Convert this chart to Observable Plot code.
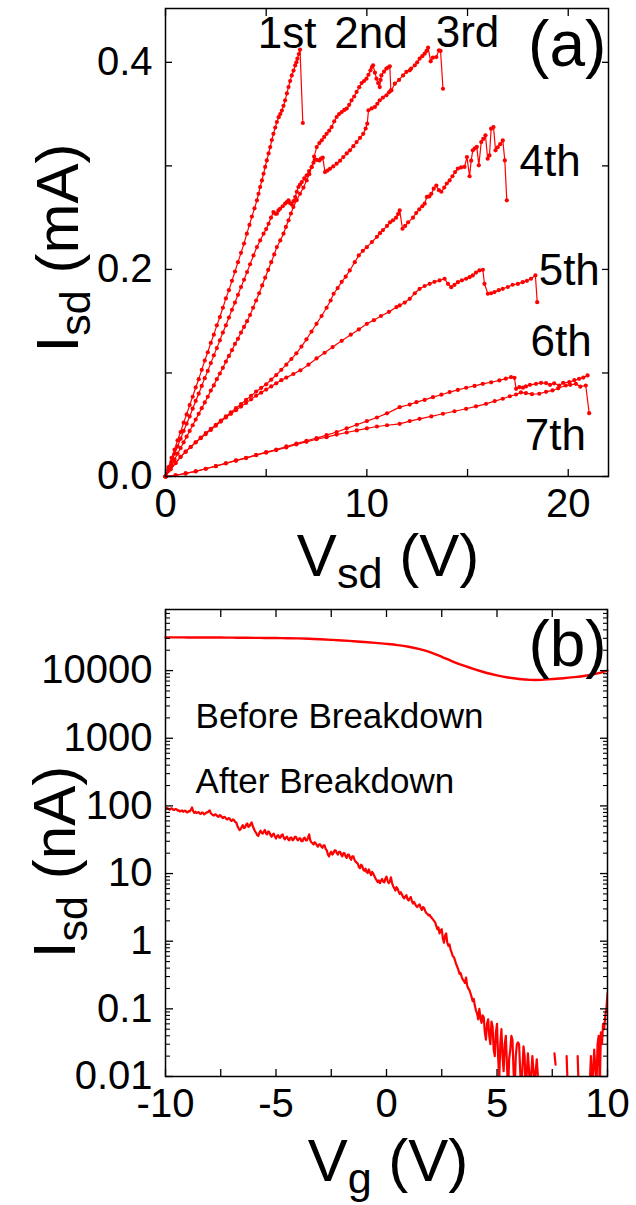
<!DOCTYPE html>
<html><head><meta charset="utf-8">
<script src="https://cdn.jsdelivr.net/npm/d3@7"></script>
<script src="https://cdn.jsdelivr.net/npm/@observablehq/plot@0.6"></script>
<style>
body{margin:0;background:#fff;}
#wrap{position:relative;width:636px;height:1205px;font-family:"Liberation Sans",Arial,sans-serif;color:#000;overflow:hidden;background:#fff}
#wrap svg{position:absolute;left:0}
.title{position:absolute;white-space:nowrap;font-size:60px;line-height:1}
.title sub{font-size:0.72em;vertical-align:-0.28em;line-height:0}
.xt{transform:translate(-50%,0)}
.yt{transform:translate(-50%,-50%) rotate(-90deg)}
</style></head><body><div id="wrap"></div>
<script>
// ---------- Panel (a) data: I_sd (mA) vs V_sd (V) ----------
const curveNames = ["1st","2nd","3rd","4th","5th","6th","7th"];
const curve1 = [[0,0],[0.15,0.009],[0.3,0.018],[0.45,0.026],[0.6,0.035],[0.75,0.043],[0.9,0.052],[1.05,0.060],[1.2,0.069],[1.35,0.077],[1.5,0.086],[1.65,0.094],[1.8,0.103],[1.95,0.112],[2.1,0.120],[2.25,0.129],[2.4,0.137],[2.55,0.146],[2.7,0.154],[2.85,0.163],[3.0,0.172],[3.15,0.180],[3.3,0.189],[3.45,0.198],[3.6,0.207],[3.75,0.216],[3.9,0.225],[4.04,0.2345],[4.17,0.243],[4.29,0.251],[4.42,0.259],[4.54,0.2667],[4.62,0.273],[4.70,0.2796],[4.79,0.286],[4.87,0.2924],[4.95,0.299],[5.03,0.3053],[5.12,0.312],[5.2,0.3182],[5.28,0.325],[5.36,0.331],[5.45,0.337],[5.53,0.3424],[5.62,0.347],[5.7,0.350],[5.78,0.3534],[5.86,0.358],[5.94,0.3633],[6.03,0.370],[6.11,0.3762],[6.19,0.382],[6.27,0.3874],[6.36,0.392],[6.44,0.397],[6.5,0.400],[6.55,0.4035],[6.62,0.408],[6.68,0.4122],[6.82,0.3414]];
const curve2 = [[0,0],[0.15,0.0055],[0.3,0.011],[0.45,0.0165],[0.6,0.022],[0.75,0.0275],[0.9,0.033],[1.05,0.0385],[1.2,0.044],[1.35,0.0495],[1.5,0.055],[1.65,0.0605],[1.8,0.066],[1.95,0.0715],[2.1,0.077],[2.25,0.083],[2.4,0.088],[2.55,0.094],[2.7,0.0995],[2.85,0.105],[3.0,0.111],[3.15,0.1165],[3.3,0.122],[3.45,0.128],[3.6,0.133],[3.75,0.139],[3.9,0.1445],[4.05,0.150],[4.2,0.156],[4.35,0.163],[4.5,0.170],[4.65,0.177],[4.8,0.1845],[4.95,0.192],[5.1,0.1995],[5.25,0.207],[5.4,0.2145],[5.53,0.2216],[5.7,0.228],[5.86,0.2345],[5.98,0.241],[6.11,0.2474],[6.23,0.254],[6.35,0.2603],[6.52,0.267],[6.68,0.2731],[6.85,0.279],[7.01,0.286],[7.14,0.292],[7.26,0.2989],[7.38,0.309],[7.51,0.3182],[7.64,0.322],[7.76,0.3247],[7.88,0.328],[8.0,0.331],[8.13,0.334],[8.25,0.3375],[8.38,0.343],[8.5,0.3472],[8.62,0.350],[8.75,0.352],[8.88,0.354],[9.0,0.3553],[9.12,0.359],[9.24,0.3633],[9.37,0.367],[9.49,0.3714],[9.62,0.376],[9.74,0.380],[9.86,0.382],[9.98,0.3842],[10.08,0.388],[10.18,0.3923],[10.25,0.3955],[10.31,0.3971],[10.4,0.390],[10.48,0.3842],[10.56,0.380],[10.64,0.3761],[10.68,0.383],[10.72,0.3874],[10.85,0.391],[10.97,0.394],[11.05,0.395],[11.14,0.3962],[11.19,0.373]];
const curve3 = [[0,0],[0.15,0.007],[0.3,0.0145],[0.45,0.022],[0.6,0.029],[0.75,0.0365],[0.9,0.044],[1.05,0.051],[1.2,0.058],[1.35,0.0655],[1.5,0.073],[1.65,0.080],[1.8,0.0875],[1.95,0.095],[2.1,0.102],[2.25,0.1095],[2.4,0.117],[2.55,0.124],[2.7,0.1315],[2.85,0.139],[3.0,0.146],[3.15,0.1535],[3.3,0.161],[3.45,0.168],[3.6,0.1755],[3.75,0.183],[3.9,0.190],[4.05,0.1975],[4.2,0.205],[4.37,0.2135],[4.54,0.2216],[4.7,0.228],[4.87,0.2345],[5.0,0.239],[5.12,0.2441],[5.24,0.250],[5.36,0.2554],[5.45,0.2538],[5.53,0.2538],[5.61,0.257],[5.69,0.2586],[5.82,0.261],[5.94,0.2635],[6.03,0.265],[6.11,0.2667],[6.19,0.264],[6.27,0.2628],[6.36,0.266],[6.44,0.2699],[6.52,0.275],[6.6,0.2796],[6.68,0.282],[6.77,0.2844],[6.89,0.288],[7.01,0.2908],[7.13,0.295],[7.26,0.2989],[7.35,0.303],[7.43,0.306],[7.53,0.3057],[7.64,0.3053],[7.72,0.307],[7.81,0.3079],[7.92,0.294],[8.04,0.2955],[8.17,0.2972],[8.33,0.2995],[8.5,0.3021],[8.67,0.305],[8.83,0.3085],[9.0,0.312],[9.16,0.315],[9.33,0.319],[9.49,0.323],[9.66,0.327],[9.82,0.331],[9.94,0.336],[10.02,0.3408],[10.08,0.3537],[10.24,0.3555],[10.4,0.3569],[10.52,0.360],[10.64,0.3633],[10.8,0.366],[10.97,0.3682],[11.1,0.371],[11.22,0.373],[11.39,0.3794],[11.6,0.383],[11.8,0.3874],[11.96,0.3907],[12.13,0.3923],[12.2,0.394],[12.38,0.3971],[12.5,0.400],[12.62,0.4035],[12.75,0.406],[12.87,0.4084],[12.96,0.411],[13.04,0.4142],[13.17,0.401],[13.28,0.4045],[13.45,0.4051],[13.58,0.4116],[13.66,0.411],[13.78,0.3745]];
const curve4 = [[0,0],[0.25,0.007],[0.5,0.013],[0.75,0.019],[1.0,0.024],[1.25,0.0285],[1.5,0.033],[1.75,0.0375],[2.0,0.042],[2.25,0.046],[2.5,0.050],[2.75,0.054],[3.0,0.058],[3.25,0.062],[3.5,0.066],[3.75,0.070],[4.0,0.074],[4.25,0.078],[4.5,0.082],[4.75,0.0855],[5.0,0.089],[5.25,0.0935],[5.5,0.098],[5.75,0.103],[6.0,0.108],[6.25,0.1135],[6.5,0.119],[6.75,0.1255],[7.0,0.1325],[7.25,0.140],[7.5,0.1475],[7.75,0.155],[8.0,0.163],[8.2,0.170],[8.35,0.1765],[8.55,0.182],[8.75,0.188],[8.95,0.193],[9.15,0.199],[9.4,0.207],[9.6,0.2135],[9.8,0.218],[10.0,0.2215],[10.25,0.2265],[10.5,0.2315],[10.65,0.235],[10.8,0.238],[11.0,0.242],[11.15,0.2455],[11.3,0.2475],[11.45,0.250],[11.55,0.2535],[11.63,0.257],[11.77,0.2393],[11.9,0.242],[12.05,0.2455],[12.29,0.250],[12.45,0.2545],[12.6,0.258],[12.75,0.261],[12.87,0.2635],[12.98,0.270],[13.1,0.2705],[13.2,0.273],[13.32,0.278],[13.45,0.281],[13.58,0.2765],[13.7,0.275],[13.84,0.279],[13.97,0.283],[14.11,0.286],[14.25,0.290],[14.38,0.294],[14.52,0.2974],[14.68,0.2985],[14.85,0.299],[14.97,0.3085],[15.1,0.290],[15.18,0.305],[15.26,0.315],[15.36,0.317],[15.46,0.3183],[15.56,0.3005],[15.68,0.323],[15.78,0.326],[15.89,0.3295],[16.0,0.3069],[16.09,0.3101],[16.17,0.3359],[16.29,0.3375],[16.39,0.315],[16.5,0.318],[16.62,0.321],[16.75,0.3246],[16.85,0.3053],[16.95,0.2667]];
const curve5 = [[0,0],[0.25,0.007],[0.5,0.013],[0.75,0.019],[1.0,0.024],[1.25,0.0285],[1.5,0.033],[1.75,0.037],[2.0,0.041],[2.25,0.045],[2.5,0.049],[2.75,0.053],[3.0,0.057],[3.25,0.0605],[3.5,0.064],[3.75,0.0675],[4.0,0.071],[4.25,0.0745],[4.5,0.078],[4.75,0.081],[5.0,0.084],[5.25,0.087],[5.5,0.090],[5.75,0.093],[6.0,0.0955],[6.35,0.099],[6.7,0.1025],[7.1,0.108],[7.5,0.114],[7.9,0.1195],[8.3,0.125],[8.75,0.131],[9.2,0.137],[9.6,0.142],[10.0,0.1475],[10.35,0.151],[10.7,0.155],[11.1,0.159],[11.47,0.1636],[11.63,0.1652],[11.88,0.168],[12.13,0.1716],[12.38,0.177],[12.62,0.1813],[12.87,0.184],[13.12,0.1861],[13.36,0.188],[13.61,0.1894],[13.86,0.191],[14.03,0.1861],[14.19,0.1829],[14.35,0.185],[14.52,0.1877],[14.72,0.1895],[14.93,0.191],[15.1,0.1925],[15.26,0.1942],[15.42,0.197],[15.59,0.199],[15.76,0.1997],[15.84,0.1861],[16.01,0.1765],[16.17,0.177],[16.34,0.1781],[16.55,0.180],[16.75,0.1813],[17.0,0.183],[17.24,0.1852],[17.5,0.186],[17.74,0.1877],[17.95,0.189],[18.15,0.191],[18.37,0.1942],[18.46,0.1684]];
const curve6 = [[0,0],[0.5,0.0012],[1.0,0.003],[1.5,0.005],[2.0,0.0075],[2.5,0.010],[3.0,0.0128],[3.5,0.0155],[4.0,0.018],[4.5,0.021],[5.0,0.0235],[5.5,0.026],[6.0,0.029],[6.5,0.0318],[7.0,0.0345],[7.5,0.037],[8.0,0.040],[8.5,0.043],[9.0,0.0465],[9.5,0.050],[10.0,0.0535],[10.5,0.057],[11.0,0.061],[11.63,0.067],[12.13,0.0695],[12.46,0.0718],[12.87,0.074],[13.28,0.0766],[13.7,0.079],[14.11,0.0815],[14.52,0.0836],[14.93,0.0857],[15.35,0.0875],[15.76,0.0895],[16.17,0.091],[16.58,0.0928],[16.9,0.0945],[17.16,0.096],[17.33,0.0953],[17.41,0.0847],[17.57,0.0863],[17.75,0.0858],[17.9,0.087],[18.1,0.0885],[18.4,0.0895],[18.65,0.0905],[18.9,0.0902],[19.1,0.0885],[19.3,0.090],[19.55,0.0879],[19.75,0.0905],[20.05,0.0911],[20.3,0.093],[20.54,0.0943],[20.75,0.0955],[20.96,0.0976]];
const curve7 = [[0,0],[0.5,0.0012],[1.0,0.003],[1.5,0.005],[2.0,0.0075],[2.5,0.010],[3.0,0.0127],[3.5,0.0153],[4.0,0.0178],[4.5,0.0205],[5.0,0.023],[5.5,0.0255],[6.0,0.028],[6.5,0.031],[7.0,0.0335],[7.5,0.036],[8.0,0.038],[8.5,0.0405],[9.0,0.0425],[9.5,0.0445],[10.0,0.0465],[10.5,0.0483],[11.0,0.0495],[11.63,0.0509],[12.13,0.0535],[12.62,0.0557],[13.2,0.058],[13.78,0.0606],[14.35,0.063],[14.93,0.0654],[15.42,0.0678],[15.92,0.0702],[16.35,0.0728],[16.75,0.0751],[17.1,0.0775],[17.41,0.0792],[17.65,0.0812],[17.9,0.0805],[18.2,0.0795],[18.56,0.0799],[18.9,0.0818],[19.22,0.0831],[19.5,0.0852],[19.88,0.0879],[20.1,0.0885],[20.38,0.0895],[20.6,0.0868],[20.87,0.0879],[21.04,0.0612]];
const curvesA = [curve1, curve2, curve3, curve4, curve5, curve6, curve7];

// panel (a) annotation anchors (data coordinates)
const labelsA = [
  {t:"1st", v:6.04, i:0.427}, {t:"2nd", v:10.2, i:0.427}, {t:"3rd", v:15.0, i:0.428},
  {t:"4th", v:19.1, i:0.3034}, {t:"5th", v:20.05, i:0.199}, {t:"6th", v:19.65, i:0.1304},
  {t:"7th", v:19.36, i:0.0396}
];
const panelA = [{t:"(a)", v:19.95, i:0.4164}];
const xTicksA = [0,5,10,15,20];
const xLabelsA = [0,10,20];
const yTicksA = [0,0.1,0.2,0.3,0.4];
const yLabelsA = [0,0.2,0.4];

// ---------- Panel (b) data: I_sd (nA) vs V_g (V) ----------
const vgBefore = [-10,-9.5,-9,-8.5,-8,-7.5,-7,-6.5,-6,-5.5,-5,-4.5,-4,-3.5,-3,-2.5,-2,-1.5,-1,-0.5,0,0.5,1,1.5,2,2.5,3,3.5,4,4.5,5,5.5,6,6.5,7,7.5,8,8.5,9,9.5,10];
const iBefore = [31000,31000,30900,30900,30800,30800,30700,30600,30500,30400,30300,30100,29900,29500,29000,28500,27900,27200,26500,25700,24800,23800,22500,20800,18600,16000,13600,11800,10400,9300,8500,7900,7500,7300,7300,7500,7700,8000,8400,9000,10000];
const after = [[-10,90],[-9.95,93],[-9.9,92],[-9.85,89],[-9.8,88],[-9.75,92],[-9.7,91],[-9.65,88],[-9.6,87],[-9.55,90],[-9.5,89],[-9.45,85],[-9.4,86],[-9.35,83],[-9.3,84],[-9.25,86],[-9.2,82],[-9.15,84],[-9.1,85],[-9.05,81],[-9.0,80],[-8.95,84],[-8.9,83],[-8.85,88],[-8.8,95],[-8.75,84],[-8.7,79],[-8.65,82],[-8.6,78],[-8.55,80],[-8.5,81],[-8.45,77],[-8.4,76],[-8.35,80],[-8.3,79],[-8.25,75],[-8.2,77],[-8.15,80],[-8.1,80],[-8.05,83],[-8.0,86],[-7.95,78],[-7.9,75],[-7.85,73],[-7.8,72],[-7.75,75],[-7.7,74],[-7.65,70],[-7.6,69],[-7.55,73],[-7.5,72],[-7.45,68],[-7.4,66],[-7.35,69],[-7.3,68],[-7.25,64],[-7.2,63],[-7.15,66],[-7.1,65],[-7.05,61],[-7.0,60],[-6.95,63],[-6.9,62],[-6.85,58],[-6.8,57],[-6.75,51],[-6.7,47],[-6.65,44],[-6.6,45],[-6.55,49],[-6.5,52],[-6.45,47],[-6.4,48],[-6.35,53],[-6.3,55],[-6.25,49],[-6.2,50],[-6.15,54],[-6.1,57],[-6.05,50],[-6.0,46],[-5.95,42],[-5.9,40],[-5.85,37],[-5.8,36],[-5.75,40],[-5.7,43],[-5.65,40],[-5.6,39],[-5.55,42],[-5.5,44],[-5.45,39],[-5.4,38],[-5.35,42],[-5.3,41],[-5.25,37],[-5.2,35],[-5.15,38],[-5.1,39],[-5.05,35],[-5.0,33],[-4.95,36],[-4.9,37],[-4.85,34],[-4.8,34],[-4.75,37],[-4.7,38],[-4.65,34],[-4.6,32],[-4.55,34],[-4.5,35],[-4.45,32],[-4.4,31],[-4.35,34],[-4.3,34],[-4.25,31],[-4.2,32],[-4.15,35],[-4.1,35],[-4.05,32],[-4.0,31],[-3.95,33],[-3.9,33],[-3.85,30],[-3.8,30],[-3.75,33],[-3.7,34],[-3.65,31],[-3.6,31],[-3.55,34],[-3.5,38],[-3.45,31],[-3.4,29],[-3.35,28],[-3.3,27],[-3.25,29],[-3.2,28],[-3.15,26],[-3.1,25],[-3.05,27],[-3.0,27],[-2.95,25],[-2.9,24],[-2.85,26],[-2.8,26],[-2.75,23],[-2.7,22],[-2.65,19],[-2.6,18],[-2.55,20],[-2.5,21],[-2.45,19],[-2.4,20],[-2.35,22],[-2.3,22],[-2.25,20],[-2.2,19],[-2.15,21],[-2.1,21],[-2.05,19],[-2.0,18],[-1.95,20],[-1.9,20],[-1.85,18],[-1.8,17],[-1.75,19],[-1.7,19],[-1.65,17],[-1.6,16],[-1.55,18],[-1.5,18],[-1.45,16],[-1.4,15],[-1.35,14.5],[-1.3,14],[-1.25,12.5],[-1.2,12],[-1.15,13.5],[-1.1,13],[-1.05,11.5],[-1.0,11],[-0.95,11.8],[-0.9,10.5],[-0.85,10.2],[-0.8,11.5],[-0.75,10.4],[-0.7,9.5],[-0.65,10.6],[-0.6,10],[-0.55,9.2],[-0.5,8.5],[-0.45,8.0],[-0.4,7.5],[-0.35,7.9],[-0.3,7.2],[-0.25,7.8],[-0.2,8.3],[-0.15,7.6],[-0.1,7.4],[-0.05,8.4],[0.0,9.0],[0.05,7.8],[0.1,7.2],[0.15,7.6],[0.2,8.8],[0.25,7.3],[0.3,6.5],[0.35,6.1],[0.4,5.6],[0.45,6.3],[0.5,6.0],[0.55,5.4],[0.6,5.0],[0.65,5.3],[0.7,4.9],[0.75,4.5],[0.8,4.3],[0.85,4.6],[0.9,4.8],[0.95,4.2],[1.0,4.0],[1.05,4.3],[1.1,4.5],[1.15,3.9],[1.2,3.6],[1.25,3.8],[1.3,3.5],[1.35,3.3],[1.4,3.2],[1.45,3.4],[1.5,3.5],[1.55,3.1],[1.6,2.9],[1.65,3.2],[1.7,3.1],[1.75,2.8],[1.8,2.6],[1.85,2.55],[1.9,2.4],[1.95,2.45],[2.0,2.3],[2.05,2.2],[2.1,2.1],[2.15,2.0],[2.2,1.9],[2.25,1.7],[2.3,1.5],[2.35,1.6],[2.4,1.3],[2.45,1.45],[2.5,1.5],[2.55,1.1],[2.6,0.95],[2.65,1.2],[2.7,1.3],[2.75,0.95],[2.8,0.85],[2.85,0.9],[2.9,0.75],[2.95,0.68],[3.0,0.6],[3.05,0.58],[3.1,0.52],[3.15,0.46],[3.2,0.42],[3.25,0.38],[3.3,0.33],[3.35,0.34],[3.4,0.30],[3.45,0.27],[3.5,0.26],[3.55,0.24],[3.6,0.29],[3.65,0.22],[3.7,0.20],[3.75,0.19],[3.8,0.17],[3.85,0.15],[3.9,0.13],[3.95,0.14],[4.0,0.11],[4.05,0.095],[4.1,0.085],[4.15,0.07],[4.2,0.10],[4.25,0.075],[4.3,0.062],[4.35,0.08],[4.4,0.075],[4.45,0.045],[4.5,0.035],[4.55,0.06],[4.6,0.07],[4.65,0.04],[4.7,0.03],[4.75,0.065],[4.8,0.055],[4.85,0.025],[4.9,0.02],[4.95,0.045],[5.0,0.06],[5.05,0.02],[5.1,0.009],[5.15,0.03],[5.2,0.05],[5.25,0.02],[5.3,0.012],[5.35,0.03],[5.4,0.04],[5.45,0.015],[5.5,0.006],[5.55,0.018],[5.6,0.025],[5.65,0.04],[5.7,0.035],[5.75,0.012],[5.8,0.006],[5.85,0.02],[5.9,0.03],[5.95,0.032],[6.0,0.03],[6.05,0.012],[6.1,0.006],[6.2,0.028],[6.25,0.02],[6.3,0.006],[6.4,0.022],[6.45,0.012],[6.5,0.006],[6.6,0.02],[6.65,0.012],[6.7,0.008],[6.8,0.018],[6.85,0.01],[6.9,0.007],[7.0,null],[7.3,null],[7.6,0.022],[7.65,0.015],[7.8,null],[8.0,null],[8.15,0.02],[8.2,0.007],[8.4,null],[8.6,null],[8.65,0.02],[8.7,0.006],[8.9,null],[9.1,null],[9.2,0.008],[9.25,0.02],[9.3,0.006],[9.4,0.025],[9.5,0.007],[9.55,0.03],[9.6,0.04],[9.65,0.006],[9.7,0.045],[9.75,0.03],[9.8,0.06],[9.85,0.05],[9.9,0.08],[9.95,0.1],[10.0,0.17]];
const textB = [
  {t:"Before Breakdown", vg:-8.64, i:2100},
  {t:"After Breakdown", vg:-8.64, i:228}
];
const panelB = [{t:"(b)", vg:8.19, i:23500}];
const xTicksB = [-10,-7.5,-5,-2.5,0,2.5,5,7.5,10];
const xLabelsB = [-10,-5,0,5,10];
const yLabelsB = [0.01,0.1,1,10,100,1000,10000];
const yMinorB = [];
for (let k = -2; k <= 4; k++) for (let m = 2; m <= 9; m++) { const v = m * Math.pow(10, k); if (v <= 80000) yMinorB.push(+v.toPrecision(3)); }

const RED = "#ff0000";
const FONT = "Liberation Sans, Arial, sans-serif";

// ---------- Build panel (a) ----------
const rowsA = curvesA.flatMap((c, k) => c.map(([v, i]) => ({v, i, s: curveNames[k]})));
const blank = () => "";
const plotA = Plot.plot({
  width: 636, height: 600,
  marginTop: 8, marginBottom: 124, marginLeft: 165, marginRight: 28,
  x: {domain: [0, 22]},
  y: {domain: [0, 0.452]},
  style: {fontFamily: FONT, background: "transparent", color: "#000"},
  marks: [
    Plot.line(rowsA, {x: "v", y: "i", z: "s", stroke: RED, strokeWidth: 1.2}),
    Plot.dot(rowsA, {x: "v", y: "i", r: 2.1, fill: RED, stroke: "none"}),
    Plot.axisX(xTicksA, {anchor: "bottom", tickSize: -7, tickFormat: blank, label: null, strokeWidth: 1.3}),
    Plot.axisX(xTicksA, {anchor: "top", tickSize: -7, tickFormat: blank, label: null, strokeWidth: 1.3}),
    Plot.axisY(yTicksA, {anchor: "left", tickSize: -7, tickFormat: blank, label: null, strokeWidth: 1.3}),
    Plot.axisY(yTicksA, {anchor: "right", tickSize: -7, tickFormat: blank, label: null, strokeWidth: 1.3}),
    Plot.axisX(xLabelsA, {anchor: "bottom", tickSize: 0, tickPadding: 12, fontSize: 40, label: null, tickFormat: d => String(d)}),
    Plot.axisY(yLabelsA, {anchor: "left", tickSize: 0, tickPadding: 13, fontSize: 40, label: null, tickFormat: d3.format(".1f")}),
    Plot.frame({stroke: "#000", strokeWidth: 1.5}),
    Plot.text(labelsA, {x: "v", y: "i", text: "t", fontSize: 44, fill: "#000", textAnchor: "middle", lineAnchor: "middle"}),
    Plot.text(panelA, {x: "v", y: "i", text: "t", fontSize: 64, fill: "#000", textAnchor: "middle", lineAnchor: "middle"})
  ]
});
plotA.style.top = "0px";

// ---------- Build panel (b) ----------
const rowsBefore = vgBefore.map((vg, k) => ({vg, i: iBefore[k]}));
const rowsAfter = after.map(([vg, i]) => ({vg, i}));
const plotB = Plot.plot({
  width: 636, height: 605,
  marginTop: 9, marginBottom: 129, marginLeft: 165, marginRight: 29,
  x: {domain: [-10, 10]},
  y: {type: "log", domain: [0.01, 80000]},
  style: {fontFamily: FONT, background: "transparent", color: "#000"},
  marks: [
    Plot.line(rowsBefore, {x: "vg", y: "i", stroke: RED, strokeWidth: 2.4, curve: "catmull-rom"}),
    Plot.line(rowsAfter, {x: "vg", y: "i", stroke: RED, strokeWidth: 2.2, clip: true}),
    Plot.axisX(xTicksB, {anchor: "bottom", tickSize: -7, tickFormat: blank, label: null, strokeWidth: 1.3}),
    Plot.axisX(xTicksB, {anchor: "top", tickSize: -7, tickFormat: blank, label: null, strokeWidth: 1.3}),
    Plot.axisY(yLabelsB, {anchor: "left", tickSize: -8, tickFormat: blank, label: null, strokeWidth: 1.3}),
    Plot.axisY(yLabelsB, {anchor: "right", tickSize: -8, tickFormat: blank, label: null, strokeWidth: 1.3}),
    Plot.axisY(yMinorB, {anchor: "left", tickSize: -5, tickFormat: blank, label: null, strokeWidth: 1.1}),
    Plot.axisY(yMinorB, {anchor: "right", tickSize: -5, tickFormat: blank, label: null, strokeWidth: 1.1}),
    Plot.axisX(xLabelsB, {anchor: "bottom", tickSize: 0, tickPadding: 12, fontSize: 40, label: null, tickFormat: d => String(d)}),
    Plot.axisY(yLabelsB, {anchor: "left", tickSize: 0, tickPadding: 13, fontSize: 40, label: null, tickFormat: d => String(d)}),
    Plot.frame({stroke: "#000", strokeWidth: 1.5}),
    Plot.text(textB, {x: "vg", y: "i", text: "t", fontSize: 35, fill: "#000", textAnchor: "start", lineAnchor: "middle"}),
    Plot.text(panelB, {x: "vg", y: "i", text: "t", fontSize: 64, fill: "#000", textAnchor: "middle", lineAnchor: "middle"})
  ]
});
plotB.style.top = "600px";

const wrap = document.getElementById("wrap");
wrap.appendChild(plotA);
wrap.appendChild(plotB);

// axis titles (HTML text with subscripts)
function title(html, cls, left, top) {
  const d = document.createElement("div");
  d.className = "title " + cls;
  d.style.left = left + "px";
  d.style.top = top + "px";
  d.innerHTML = html;
  wrap.appendChild(d);
}
title("V<sub>sd</sub> (V)", "xt", 388, 526);
title("I<sub>sd</sub> (mA)", "yt", 58, 248);
title("V<sub>g</sub> (V)", "xt", 388, 1131);
title("I<sub>sd</sub> (nA)", "yt", 55, 862);
</script></body></html>
